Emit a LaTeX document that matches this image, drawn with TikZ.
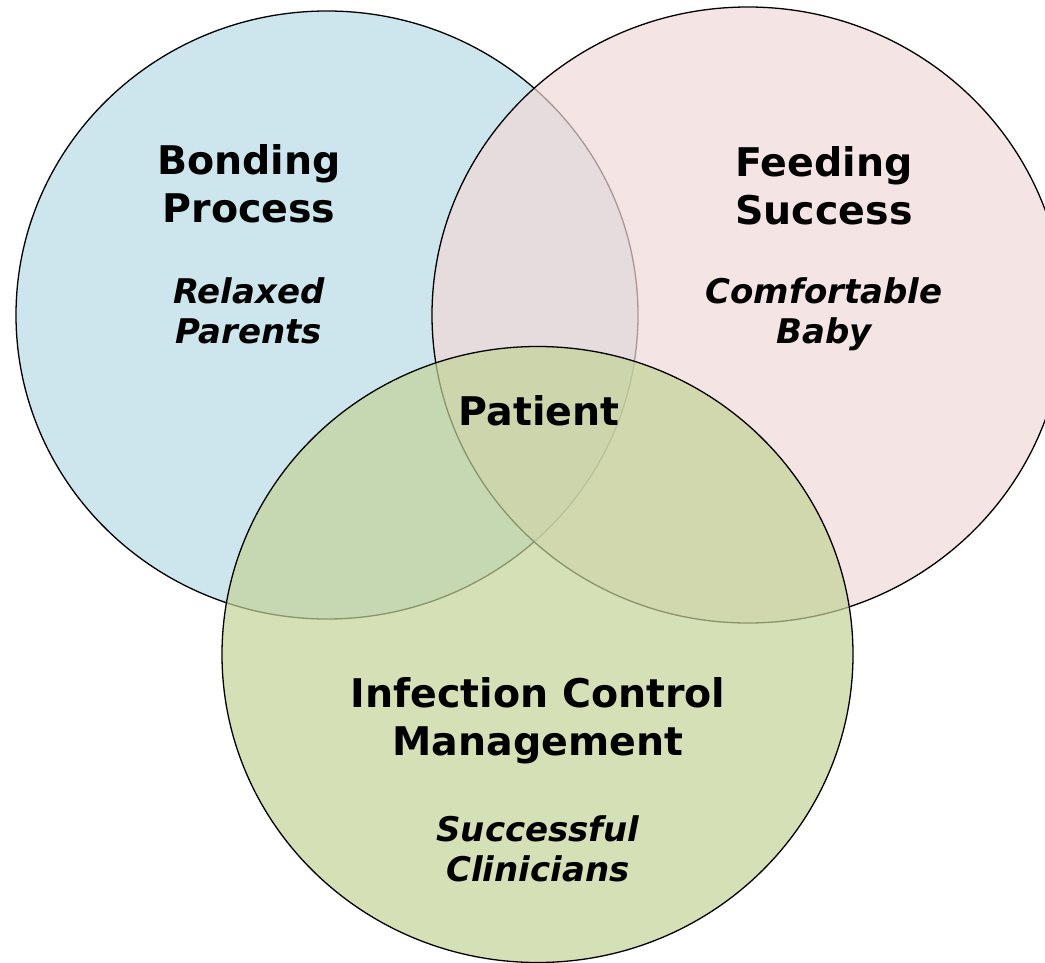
\documentclass[tikz,border=0pt]{standalone}
\usepackage{fontspec}
\setmainfont{DejaVu Sans}
\definecolor{bondblue}{RGB}{184,219,229}
\definecolor{feedpink}{RGB}{241,216,216}
\definecolor{careGreen}{RGB}{195,211,152}
\begin{document}
\begin{tikzpicture}[x=1pt,y=-1pt,
  ring/.style={draw=black,line width=1.3pt,fill opacity=0.7},
  headline/.style={align=center,font=\bfseries\fontsize{39.5}{48}\selectfont},
  subline/.style={align=center,font=\bfseries\itshape\fontsize{34}{40}\selectfont}]
\useasboundingbox (0,0) rectangle (1045,963);
\clip (0,0) rectangle (1045,963);
% the three circles, later ones laid over the earlier
\draw[ring,fill=bondblue] (327,315) ellipse [x radius=311pt, y radius=304pt];
\draw[ring,fill=feedpink] (748,315) ellipse [x radius=316pt, y radius=308pt];
\draw[ring,fill=careGreen] (537.5,654.5) ellipse [x radius=315.5pt, y radius=308pt];
% labels
\node [headline](bond) at(249,184) {Bonding\\Process};
\node [subline](relax) at(249,311) {Relaxed\\Parents};
\node [headline](feed) at(824,186) {Feeding\\Success};
\node [subline](comfort) at(824,314) {Comfortable\\Baby};
\node [headline](patient) at(539,411) {Patient};
\node [headline](infect) at(538,721) {Infection Control\\Management};
\node [subline](clin) at(538,849) {Successful\\Clinicians};
\end{tikzpicture}
\end{document}
